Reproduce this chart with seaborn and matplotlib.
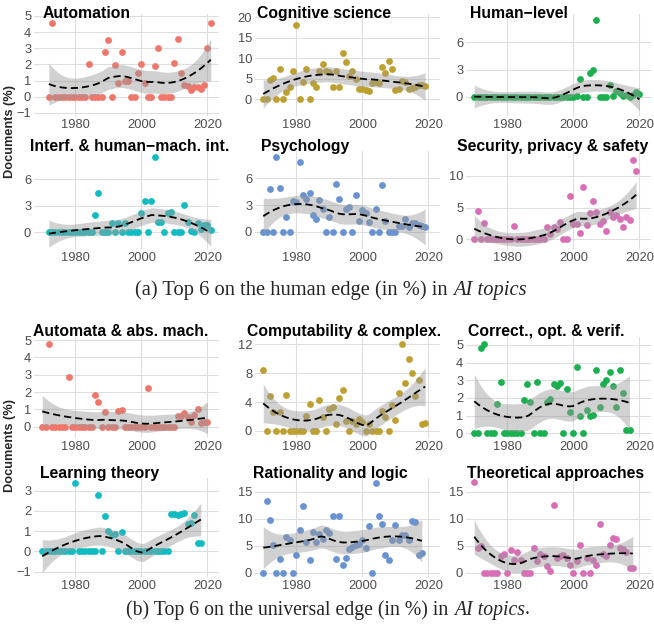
import numpy as np
import pandas as pd
import seaborn as sns
import matplotlib.pyplot as plt

# ---- data: share of documents (%) per year ----
topics_a = ["Automation", "Cognitive science", "Human−level",
            "Interf. & human−mach. int.", "Psychology", "Security, privacy & safety"]
topics_b = ["Automata & abs. mach.", "Computability & complex.", "Correct., opt. & verif.",
            "Learning theory", "Rationality and logic", "Theoretical approaches"]

start_a = [1972, 1970, 1970, 1972, 1970, 1970]
start_b = [1970, 1970, 1970, 1970, 1970, 1970]

automation = [0, 4.55, 0, 0, 0, 0, 0, 0, 0, 0, 0, 0, 2.05, 0, 0, 0, 0, 2.8, 3.5, 0,
              1.95, 0.85, 2.8, 0.95, 1.0, 0, 0, 1.45, 2.0, 0.85, 0, 0, 1.9, 3.0, 0, 0,
              0, 0, 2.1, 3.55, 1.5, 0.7, 0.65, 0.4, 0.6, 0.6, 0.5, 0.75, 3.0, 4.55]
cognitive = [0, 0, 4.7, 5.1, 0, 7.4, 0, 1.9, 2.9, 6.8, 18.1, 0, 4.3, 7.4, 0, 3.9, 2.9,
             7.0, 8.6, 6.8, 6.6, 2.9, 7.0, 2.9, 11.2, 9.2, 5.7, 6.8, 5.0, 2.4, 2.4, 2.2,
             2.0, 4.0, 4.3, 4.0, 7.9, 6.5, 9.3, 7.4, 2.3, 2.4, 4.5, 4.3, 2.6, 2.7, 2.9,
             3.5, 3.5, 3.2]
human_level = [0, 0, 0, 0, 0, 0, 0, 0, 0, 0, 0, 0, 0, 0, 0, 0, 0, 0, 0, 0, 0, 0, 0, 0,
               0, 0, 0, 0, 0, 0, 0, 0.05, 2.0, 0, 0, 2.6, 3.0, 8.4, 0, 0, 0, 1.3, 0.1,
               0.7, 0.4, 0.1, 0.2, 0, 0.2, 0.5, 0.35]
interf = [0, 0, 0, 0, 0, 0, 0, 0, 0, 0, 0, 0, 0, 0, 2.0, 4.4, 0, 0, 0, 1.0, 0, 1.0, 0,
          1.1, 0, 0, 0, 0, 2.2, 3.5, 0, 3.5, 8.5, 1.2, 1.2, 0, 2.2, 2.3, 0, 0, 0, 3.1,
          1.2, 0.1, 0, 1.0, 0.4, 0.8, 0.8, 0.3]
psychology = [0, 0, 4.8, 0, 8.4, 4.9, 0, 1.6, 0, 3.5, 3.3, 7.8, 4.1, 3.7, 4.3, 1.9, 1.4,
              3.6, 2.6, 0, 1.6, 0, 5.4, 3.7, 0, 2.6, 2.8, 0, 4.1, 1.2, 2.4, 2.1, 1.1, 0,
              2.6, 0, 5.3, 1.2, 0, 0, 0, 0.6, 0.6, 1.4, 0.5, 1.0, 1.0, 0.8, 0.7, 0.5]
security = [0, 4.4, 0, 2.6, 0, 0, 0, 0, 0, 0, 0, 0, 2.1, 0, 0, 0, 0, 0, 0, 0, 0, 0, 2.0,
            0.9, 1.9, 1.6, 2.8, 0, 0, 6.8, 2.4, 2.4, 1.0, 8.2, 2.3, 4.1, 6.1, 4.3, 2.4,
            2.9, 1.4, 4.3, 3.5, 3.8, 3.2, 1.9, 3.5, 3.0, 12.5, 10.8]

automata = [0, 0, 4.75, 0, 0, 0, 0, 0, 2.85, 0, 0, 0, 0, 0, 0, 0, 1.85, 1.4, 0, 0.85, 0,
            0, 0, 0.9, 0.95, 0, 0, 0, 0, 0, 0, 0, 2.25, 0, 0, 0, 0, 0, 0, 0, 0, 0.6, 0.6,
            0.8, 0.55, 0.3, 0.65, 1.0, 0.2, 0.25, 0.25]
computability = [8.5, 0, 4.8, 2.6, 0, 2.6, 0, 5.0, 0, 0, 0, 0, 0, 2.1, 3.8, 0, 0, 4.3,
                 1.9, 0, 3.0, 3.3, 1.0, 4.5, 5.7, 1.4, 0, 1.4, 1.0, 1.7, 1.2, 0, 1.0, 0,
                 0, 0, 2.7, 2.0, 0, 3.6, 1.5, 5.3, 12.0, 6.6, 9.9, 8.0, 4.9, 7.1, 1.0, 1.1]
correctness = [0, 0, 4.8, 5.05, 0, 0, 0, 1.65, 2.9, 0, 0, 0, 0, 0, 0, 1.9, 2.8, 1.75, 0,
               2.9, 0, 0, 1.75, 1.95, 2.8, 2.65, 2.85, 0, 2.5, 1.2, 0, 3.75, 1.0, 0, 1.3,
               1.0, 1.05, 3.6, 1.5, 2.8, 3.0, 3.45, 2.7, 1.5, 3.6, 2.3, 0.2, 0.2]
learning = [0, 0, 0, 0, 0, 0, 0, 0, 0, 0, 3.35, 0, 0, 0, 0, 0, 0, 2.8, 0, 1.75, 1.0, 0.8,
            0.85, 0, 0.95, 0, 0, 0, 0, 0, 0, 0, 0, 0, 0, 0, 0, 0, 0, 1.85, 1.85, 1.8,
            1.85, 1.9, 1.35, 1.4, 1.8, 0.4, 0.4]
rationality = [0, 13.2, 9.7, 5.2, 0, 2.6, 0, 6.6, 6.0, 0, 3.3, 7.8, 12.4, 5.7, 2.3, 7.6,
               5.7, 7.2, 6.2, 7.9, 7.4, 10.4, 2.6, 10.4, 1.5, 2.7, 4.3, 4.8, 5.1, 5.3,
               6.0, 4.6, 8.6, 0, 16.5, 10.4, 9.0, 3.3, 2.4, 6.0, 8.8, 6.0, 6.9, 6.9, 6.1,
               9.5, 9.3, 3.3, 3.7]
theoretical = [16.7, 4.6, 4.9, 0, 0, 0, 0, 0, 3.0, 3.5, 0, 4.1, 2.3, 3.9, 2.4, 0, 0, 0,
               4.6, 2.2, 3.4, 3.0, 1.2, 0.3, 12.6, 2.8, 3.1, 3.3, 2.8, 1.5, 0, 2.2, 5.1,
               0, 2.8, 0, 2.3, 1.4, 9.0, 3.5, 3.0, 5.1, 6.5, 6.3, 4.6, 4.4, 3.8, 0.9, 0.9]

series_a = [automation, cognitive, human_level, interf, psychology, security]
series_b = [automata, computability, correctness, learning, rationality, theoretical]

yticks_a = [[-1, 0, 1, 2, 3, 4, 5], [0, 5, 10, 15, 20], [0, 3, 6], [0, 3, 6], [0, 3, 6], [0, 5, 10]]
yticks_b = [[0, 1, 2, 3, 4, 5], [0, 4, 8, 12], [0, 1, 2, 3, 4, 5], [-1, 0, 1, 2, 3],
            [0, 5, 10, 15], [0, 5, 10, 15]]
ylims_a = [(-1.19, 5.12), (-4.07, 20.8), (-2.1, 9.1), (-1.9, 9.2), (-1.94, 9.07), (-1.5, 13.9)]
ylims_b = [(-0.65, 5.18), (-0.97, 13.0), (-0.27, 5.45), (-1.27, 3.62), (-0.8, 17.5), (-0.8, 17.5)]

palette = ["#F0766A", "#BDA030", "#1AB04F", "#10BCC2", "#6892D2", "#D86FB6"]


def loess_band(x, y, grid, span=0.75):
    # local quadratic loess (tricube weights) with standard error band
    n = len(x)
    q = int(np.floor(n * span))

    def row(x0):
        d = np.abs(x - x0)
        h = np.sort(d)[q - 1]
        w = np.clip(1 - (d / h) ** 3, 0, None) ** 3
        X = np.column_stack([np.ones(n), x - x0, (x - x0) ** 2])
        XtW = X.T * w
        return np.linalg.solve(XtW @ X, XtW)[0]

    L = np.array([row(v) for v in x])
    M = np.eye(n) - L
    sigma = np.sqrt(np.sum((M @ y) ** 2) / np.trace(M.T @ M))
    G = np.array([row(v) for v in grid])
    fit = G @ y
    se = sigma * np.sqrt((G ** 2).sum(axis=1))
    return fit, fit - 2.01 * se, fit + 2.01 * se


sns.set_theme(style="whitegrid")
plt.rcParams['font.family'] = ['Liberation Sans', 'DejaVu Sans']

W, H = 654, 629
fig = plt.figure(figsize=(W / 100, H / 100), dpi=100)

col_left = [34, 255, 466]
col_w = 185
# (top, bottom) of each row of panels and title baselines, pixels
rows_a = [(14, 116), (151, 249)]
rows_b = [(337, 438), (478, 577)]
title_y_a = [18, 151]
title_y_b = [336, 478]
title_x_a = [43, 257, 470, 30, 261, 457]
title_x_b = [33, 247, 468, 40, 253, 467]


def draw_group(rows, title_y, topics, starts, series, yticks, ylims, title_x):
    for i, (name, y0, vals) in enumerate(zip(topics, starts, series)):
        r, c = divmod(i, 3)
        top, bot = rows[r]
        ax = fig.add_axes([col_left[c] / W, 1 - bot / H, col_w / W, (bot - top) / H])
        df = pd.DataFrame({"year": np.arange(y0, y0 + len(vals)), "pct": vals})
        x = df["year"].to_numpy(float)
        y = df["pct"].to_numpy(float)
        grid = np.linspace(x.min(), x.max(), 80)
        fit, lo, hi = loess_band(x, y, grid)
        sns.scatterplot(data=df, x="year", y="pct", ax=ax, color=palette[i], s=24,
                        linewidth=0, zorder=2)
        ax.fill_between(grid, lo, hi, color="#999999", alpha=0.45, lw=0, zorder=3)
        ax.plot(grid, fit, color="black", lw=1.3, ls=(0, (4, 2.2)), zorder=4)
        ax.set_xlim(1967.5, 2023.5)
        ax.set_ylim(*ylims[i])
        ax.set_xticks([1980, 2000, 2020])
        ax.set_yticks(yticks[i])
        ax.set_xlabel("")
        ax.set_ylabel("")
        ax.set_facecolor("none")
        ax.grid(True, color="#DEDEDE", lw=0.8)
        ax.tick_params(length=0, pad=2, labelsize=9.3, labelcolor="#4D4D4D")
        for s in ax.spines.values():
            s.set_visible(False)
        fig.text(title_x[i] / W, 1 - title_y[r] / H, name, ha="left", va="baseline",
                 fontsize=11.3, fontweight="bold", color="black")


draw_group(rows_a, title_y_a, topics_a, start_a, series_a, yticks_a, ylims_a, title_x_a)
draw_group(rows_b, title_y_b, topics_b, start_b, series_b, yticks_b, ylims_b, title_x_b)

fig.text(10 / W, 1 - 131 / H, "Documents (%)", rotation=90, ha="center", va="center",
         fontsize=9.2, fontweight="bold")
fig.text(10 / W, 1 - 446 / H, "Documents (%)", rotation=90, ha="center", va="center",
         fontsize=9.2, fontweight="bold")


def caption(cx, cy, size, parts):
    # parts: list of (text, style); laid out left to right, centred on cx
    renderer = fig.canvas.get_renderer()
    texts = []
    for s, st in parts:
        t = fig.text(0, 1 - cy / H, s, ha="left", va="center", fontsize=size,
                     family=["Liberation Serif", "DejaVu Serif"], style=st)
        texts.append(t)
    widths = [t.get_window_extent(renderer).width for t in texts]
    x = cx - sum(widths) / 2
    for t, w in zip(texts, widths):
        t.set_x(x / W)
        x += w


caption(331, 290, 14.8, [("(a) Top 6 on the human edge (in %) in ", "normal"),
                         ("AI topics", "italic")])
caption(328, 610, 14.2, [("(b) Top 6 on the universal edge (in %) in ", "normal"),
                         ("AI topics", "italic"), (".", "normal")])

fig.savefig("out.png", dpi=100)
